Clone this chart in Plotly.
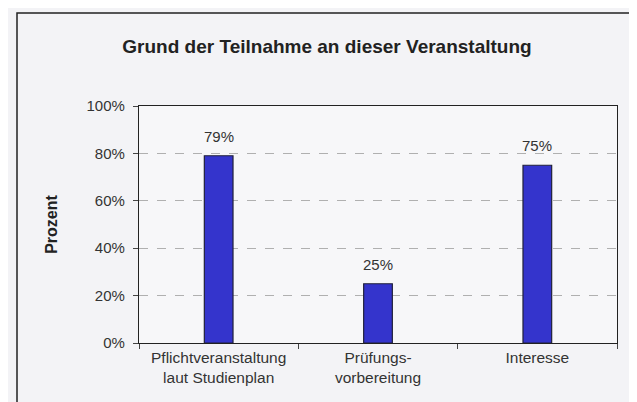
import plotly.graph_objects as go

categories = ["Pflichtveranstaltung<br>laut Studienplan", "Prüfungs-<br>vorbereitung", "Interesse"]
values = [79, 25, 75]
labels = ["79%", "25%", "75%"]
y_ticks = [0, 20, 40, 60, 80, 100]
y_ticklabels = ["0%", "20%", "40%", "60%", "80%", "100%"]

W, H = 637, 402
L, R, T, B = 131, 28, 98, 67
pw, ph = W - L - R, H - T - B
FONT = "Liberation Sans, Arial"

fig = go.Figure()
fig.add_trace(go.Bar(
    x=categories, y=values,
    width=0.18,
    marker=dict(color="#3434cc", line=dict(color="#20203a", width=1.2)),
))
for c, v, t in zip(categories, values, labels):
    fig.add_annotation(x=c, y=v, text=t, showarrow=False, yanchor="bottom",
                       yshift=9, font=dict(family=FONT, size=15, color="#333333"))

def px_x(p):
    return (p - L) / pw

def px_y(p):
    return (H - B - p) / ph

fig.add_shape(type="rect", xref="paper", yref="paper",
              x0=px_x(9), x1=px_x(660), y0=px_y(420), y1=px_y(5),
              line=dict(color="#222222", width=1.5), fillcolor="rgba(0,0,0,0)", layer="below")

fig.update_layout(
    width=W, height=H,
    margin=dict(l=L, r=R, t=T, b=B, autoexpand=False),
    paper_bgcolor="#f3f3f6", plot_bgcolor="#f7f7f9",
    showlegend=False,
    title=dict(text="<b>Grund der Teilnahme an dieser Veranstaltung</b>",
               x=319 / W, xanchor="center", y=1 - 38 / H, yanchor="middle",
               font=dict(family=FONT, size=19, color="#222222")),
    font=dict(family=FONT, size=14, color="#333333"),
)
fig.update_xaxes(
    showline=True, linecolor="#222222", linewidth=1.2, mirror=True,
    ticks="outside", tickson="boundaries", ticklen=5, tickcolor="#444444",
    tickfont=dict(family=FONT, size=15.5, color="#333333"),
    showgrid=False, range=[-0.5, 2.5],
)
fig.update_yaxes(
    range=[0, 100], tickvals=y_ticks, ticktext=y_ticklabels,
    showline=True, linecolor="#222222", linewidth=1.2, mirror=True,
    ticks="outside", ticklen=5, tickcolor="#444444", ticklabelstandoff=5,
    showgrid=True, gridcolor="#b0b0b0", griddash="dash", gridwidth=1,
    zeroline=False,
    tickfont=dict(family=FONT, size=15, color="#333333"),
    title=dict(text="<b>Prozent</b>", standoff=24,
               font=dict(family=FONT, size=16, color="#222222")),
)
fig.write_html("out.html")
